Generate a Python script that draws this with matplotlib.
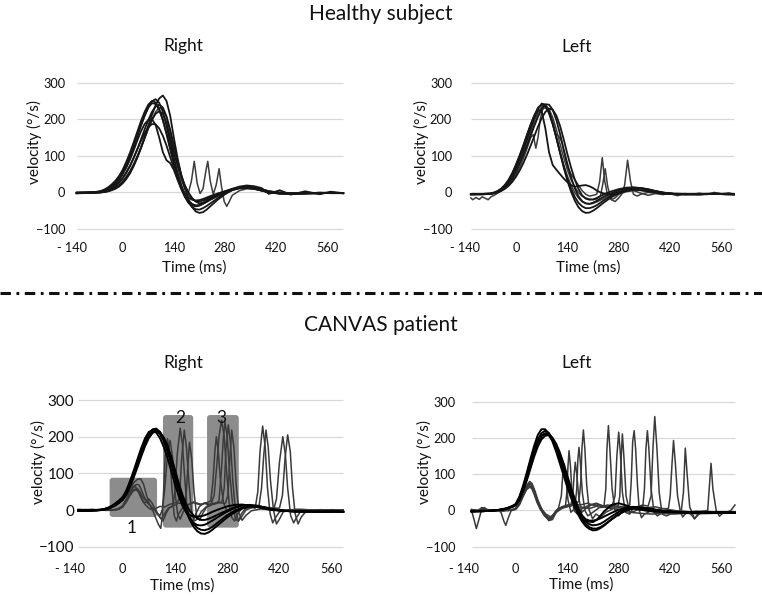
import matplotlib
matplotlib.use('Agg')
import matplotlib.pyplot as plt
from matplotlib.patches import FancyBboxPatch
from matplotlib.lines import Line2D

plt.rcParams['font.family'] = ['Lato', 'DejaVu Sans']
plt.rcParams['lines.scale_dashes'] = False

# ---------------- data ----------------
YTICKS = [-100, 0, 100, 200, 300]
XTICKS = [-140, 0, 140, 280, 420, 560]
XTICKLABELS = ['- 140', '0', '140', '280', '420', '560']

# Healthy subject - Right (time grid in ms, velocity in deg/s)
T_HR = [-126, -90, -70, -60, -50, -40, -30, -20, -10, 0, 10, 20, 30, 40, 50, 60, 70, 80, 90, 100,
        110, 120, 130, 140, 150, 160, 170, 180, 190, 200, 210, 220, 230, 240, 260, 280, 300, 320,
        340, 360, 380, 400, 430, 460, 500, 540, 570, 604]
HR1 = [-2, -1, 0, 0, 1, 3, 6, 10, 16, 25, 37, 52, 72, 95, 122, 152, 183, 212, 238, 257,
       265, 250, 210, 150, 95, 48, 12, -18, -40, -52, -56, -54, -47, -38, -20, -5, 7, 14, 17, 15,
       9, 3, -2, -4, -3, -2, -1, -2]
HR2 = [-1, 0, 1, 2, 4, 8, 14, 23, 35, 52, 72, 96, 124, 153, 182, 209, 232, 249, 255, 245,
       220, 182, 138, 95, 55, 20, -8, -28, -40, -46, -47, -43, -37, -30, -16, -4, 6, 13, 15, 12,
       6, 1, -3, -4, -2, -1, -2, -2]
HR3 = [0, 0, 2, 4, 8, 14, 22, 32, 45, 62, 84, 109, 137, 166, 195, 220, 240, 250, 246, 228,
       198, 160, 118, 78, 42, 12, -12, -28, -36, -38, -36, -31, -25, -19, -9, 0, 8, 13, 14, 11,
       5, 0, -3, -3, -2, -1, -1, -2]
HR4 = [-1, 0, 1, 3, 6, 11, 18, 27, 40, 56, 76, 100, 127, 156, 185, 211, 232, 244, 242, 226,
       198, 162, 122, 84, 50, 20, -5, -22, -32, -36, -35, -31, -26, -20, -10, -1, 7, 12, 13, 10,
       5, 1, -2, -3, -2, -1, -2, -2]
HR5 = [-2, -1, 0, 1, 3, 6, 11, 18, 27, 39, 54, 72, 94, 118, 145, 172, 198, 220, 235, 240,
       232, 208, 172, 130, 88, 50, 18, -5, -18, -24, -25, -22, -18, -13, -5, 2, 8, 13, 15, 13,
       8, 3, -1, -3, -3, -2, -1, -2]
HR7 = [-2, -1, 0, 0, 2, 4, 8, 13, 20, 30, 43, 58, 77, 99, 123, 149, 175, 198, 215, 222,
       215, 190, 150, 110, 75, 45, 20, 0, -15, -25, -30, -28, -22, -15, -4, 3, 10, 16, 19, 17,
       12, -4, 6, -6, 3, -5, 2, -2]
HR8 = [-1, 0, 1, 2, 5, 9, 15, 24, 35, 50, 68, 90, 115, 142, 167, 187, 198, 200, 185, 150,
       110, 88, 80, 62, 35, 10, -10, -24, -32, -36, -35, -30, -24, -18, -8, 0, 7, 11, 12, 10,
       6, 1, -2, -3, -2, -1, -1, -2]
HR9 = [-2, -1, 0, 1, 3, 6, 11, 18, 27, 40, 55, 73, 95, 118, 141, 162, 178, 187, 186, 175,
       155, 128, 97, 66, 38, 14, -3, -14, -20, -22, -21, -18, -14, -10, -3, 3, 9, 14, 16, 14,
       9, 3, 0, -2, -3, -2, -1, -2]
HR6 = [(-126, -3), (-70, -1), (-50, 1), (-40, 3), (-30, 7), (-20, 12), (-10, 19), (0, 28), (10, 40),
       (20, 55), (30, 73), (40, 95), (50, 120), (60, 147), (70, 175), (80, 200), (90, 220), (100, 232),
       (110, 228), (120, 205), (130, 165), (140, 118), (150, 72), (160, 35), (170, 10), (180, 0),
       (188, 30), (196, 85), (204, 25), (212, -3), (220, 10), (228, 60), (233, 85), (240, 30),
       (248, -5), (256, 20), (264, 65), (270, 20), (278, -25), (285, -38), (292, -25), (300, -8),
       (320, 5), (340, 10), (360, 9), (380, 5), (400, 0), (430, -4), (460, -3), (500, -2), (540, -3),
       (570, -1), (604, -2)]

# Healthy subject - Left
T_HL = [-123, -90, -70, -60, -50, -40, -30, -20, -10, 0, 10, 20, 30, 40, 50, 60, 70, 80, 90, 100,
        110, 120, 130, 140, 150, 160, 170, 180, 190, 200, 210, 220, 230, 240, 260, 280, 300, 320,
        340, 360, 380, 400, 430, 460, 500, 540, 570, 594]
HL1 = [-5, -5, -4, -2, 2, 8, 17, 30, 47, 68, 92, 118, 146, 175, 203, 228, 243, 240, 222, 190,
       150, 108, 68, 32, 2, -22, -40, -51, -56, -55, -50, -43, -35, -27, -13, -3, 4, 7, 6, 3,
       0, -3, -5, -6, -5, -4, -5, -6]
HL2 = [-4, -4, -3, 0, 4, 11, 21, 35, 53, 76, 101, 128, 156, 185, 211, 232, 240, 236, 218, 188,
       150, 110, 72, 38, 10, -12, -28, -38, -43, -43, -40, -35, -28, -21, -9, 1, 8, 12, 12, 9,
       4, 0, -4, -5, -5, -4, -5, -5]
HL3 = [-5, -5, -4, -2, 1, 6, 13, 24, 38, 56, 78, 102, 128, 155, 182, 207, 228, 241, 240, 226,
       198, 160, 118, 78, 42, 12, -10, -24, -30, -31, -28, -23, -17, -11, -2, 6, 11, 13, 11, 7,
       3, -1, -4, -5, -5, -4, -4, -5]
HL4 = [-5, -4, -3, -2, 0, 4, 10, 18, 29, 43, 60, 80, 103, 128, 154, 180, 203, 220, 229, 226,
       210, 182, 145, 105, 68, 36, 10, -8, -17, -20, -19, -15, -10, -5, 3, 9, 13, 14, 12, 8,
       3, -1, -3, -4, -4, -3, -4, -5]
HL8 = [-6, -5, -4, -2, 2, 9, 19, 33, 52, 75, 100, 128, 158, 186, 210, 225, 222, 175, 110, 75,
       62, 50, 38, 28, 20, 16, 17, 19, 20, 17, 12, 5, 0, -3, -5, 0, 5, 8, 6, 3,
       0, -3, -5, -4, -6, -3, -5, -5]
HL5 = [(-123, -5), (-90, -5), (-70, -4), (-60, -2), (-50, 1), (-40, 5), (-30, 11), (-20, 20), (-10, 32),
       (0, 48), (10, 68), (20, 92), (30, 120), (40, 150), (47, 158), (54, 121), (60, 150), (66, 200),
       (72, 225), (78, 232), (84, 228), (90, 215), (100, 185), (110, 148), (120, 110), (130, 75),
       (140, 45), (150, 20), (160, 0), (170, -15), (180, -25), (190, -30), (200, -32), (210, -30),
       (220, -26), (230, -21), (240, -16), (260, -6), (280, 2), (300, 8), (320, 11), (340, 11),
       (360, 8), (380, 4), (400, 0), (430, -4), (460, -5), (500, -5), (540, -4), (570, -4), (594, -5)]
HL6 = [(-123, -15), (-118, -20), (-109, -14), (-100, -19), (-92, -12), (-84, -16), (-76, -20), (-68, -12),
       (-60, -8), (-50, -2), (-40, 5), (-30, 14), (-20, 27), (-10, 43), (0, 62), (10, 84), (20, 108),
       (30, 134), (40, 160), (50, 186), (60, 210), (70, 228), (80, 235), (90, 222), (100, 190),
       (108, 160), (116, 155), (124, 140), (132, 105), (140, 70), (150, 50), (160, 35), (170, 20),
       (180, 5), (190, -5), (200, -10), (210, -8), (220, -5), (228, 30), (235, 95), (242, 30),
       (250, -10), (260, -20), (270, -15), (280, -5), (300, 2), (320, 5), (340, -2), (360, -8),
       (380, -3), (400, -6), (420, -2), (440, -9), (460, -3), (480, -5), (500, -2), (520, -6),
       (540, 0), (560, -4), (580, -1), (594, -5)]
HL7 = [(-123, -4), (-90, -4), (-70, -3), (-60, -1), (-50, 3), (-40, 9), (-30, 18), (-20, 30), (-10, 46),
       (0, 66), (10, 89), (20, 114), (30, 141), (40, 168), (50, 195), (60, 218), (70, 234), (80, 238),
       (90, 228), (100, 205), (110, 172), (120, 132), (130, 95), (140, 62), (150, 35), (160, 15),
       (170, 0), (180, -10), (190, -15), (200, -18), (210, -20), (220, -18), (230, -10), (236, 20),
       (243, 65), (250, 15), (260, -20), (270, -25), (280, -15), (288, -5), (296, 20), (304, 88),
       (312, 30), (320, -5), (330, -10), (340, -5), (360, 0), (380, -2), (400, -4), (430, -5),
       (460, -5), (500, -4), (540, -4), (570, -5), (594, -5)]

# CANVAS patient - Right
T_CR = [-119, -90, -70, -60, -50, -40, -30, -20, -10, 0, 10, 20, 30, 40, 50, 60, 70, 80, 90, 100,
        110, 120, 130, 140, 150, 160, 170, 180, 190, 200, 210, 220, 230, 240, 260, 280, 300, 320,
        340, 360, 380, 400, 430, 460, 500, 540, 570, 591]
CR1 = [-2, -2, -1, 0, 2, 5, 9, 15, 22, 31, 48, 72, 100, 130, 160, 187, 208, 220, 222, 213,
       195, 170, 138, 100, 62, 28, -2, -27, -46, -58, -64, -65, -61, -54, -37, -20, -6, 4, 9, 9,
       6, 2, -2, -4, -5, -5, -4, -5]
CR2 = [-2, -1, -1, 0, 1, 4, 8, 13, 20, 29, 45, 68, 95, 124, 153, 180, 201, 214, 218, 212,
       196, 172, 141, 104, 67, 33, 4, -20, -38, -49, -54, -55, -52, -46, -30, -14, -2, 7, 11, 10,
       7, 2, -2, -4, -5, -5, -4, -5]
CR3 = [-1, -1, 0, 0, 2, 5, 10, 16, 24, 33, 50, 75, 103, 133, 163, 190, 210, 219, 218, 207,
       187, 160, 126, 88, 52, 20, -6, -24, -35, -41, -42, -40, -35, -29, -16, -4, 6, 12, 13, 10,
       6, 1, -2, -4, -4, -5, -4, -5]
CR4 = [-2, -2, -1, 0, 1, 3, 7, 12, 19, 27, 42, 64, 90, 118, 147, 174, 196, 210, 215, 211,
       198, 176, 146, 110, 74, 42, 16, -3, -15, -23, -27, -27, -24, -20, -10, -1, 7, 13, 14, 12,
       7, 2, -1, -3, -4, -4, -4, -5]
CR5 = [-1, -1, 0, 1, 3, 6, 11, 18, 26, 36, 54, 80, 109, 140, 170, 196, 213, 217, 211, 196,
       172, 142, 107, 70, 38, 12, -6, -14, -18, -18, -17, -14, -10, -5, 3, 10, 14, 15, 12, 8,
       4, 0, -2, -3, -4, -4, -4, -5]
CRG1 = [(-119, 0), (-80, 2), (-60, -1), (-40, 1), (-20, 0), (-10, 3), (0, 12), (10, 30), (20, 55), (30, 75),
        (40, 84), (48, 85), (56, 70), (64, 40), (72, 15), (80, 0), (88, -20), (96, -40), (102, -50),
        (106, -20), (110, 60), (114, 150), (120, 195), (126, 150), (132, 60), (138, -15), (144, -30),
        (150, -10), (160, 5), (175, 15), (190, 20), (205, 15), (220, 18), (235, 12), (245, 40),
        (252, 120), (258, 200), (265, 245), (272, 200), (278, 110), (285, 20), (292, -20), (300, -30),
        (308, -10), (320, 5), (340, 8), (355, 5), (362, 50), (368, 160), (375, 229), (382, 170),
        (388, 60), (395, -10), (402, -35), (410, -20), (420, -5), (440, 0), (470, 2), (500, -2),
        (530, 1), (560, -1), (591, 0)]
CRG2 = [(-119, 1), (-90, -2), (-60, 1), (-30, 0), (-10, 2), (0, 8), (10, 25), (20, 50), (28, 62), (34, 64),
        (40, 55), (48, 35), (56, 20), (64, 22), (72, 15), (80, 5), (90, -5), (100, -20), (108, -30),
        (116, -10), (124, 5), (134, 10), (140, 50), (146, 150), (154, 223), (160, 180), (166, 90),
        (172, 10), (180, -25), (188, -30), (196, -10), (206, 10), (220, 20), (235, 15), (250, 18),
        (258, 25), (264, 100), (270, 200), (274, 240), (280, 200), (286, 110), (294, 20), (302, -25),
        (310, -30), (318, -10), (330, 5), (350, 10), (370, 8), (390, 5), (405, 3), (412, 30),
        (420, 130), (429, 200), (436, 150), (442, 60), (450, -15), (458, -35), (466, -20), (476, -5),
        (500, 0), (530, -2), (560, 0), (591, -1)]
CRG3 = [(-119, -1), (-100, 1), (-70, 0), (-40, -1), (-20, 1), (0, 10), (10, 28), (20, 45), (30, 56),
        (39, 59), (46, 50), (54, 35), (62, 25), (70, 30), (78, 20), (86, 5), (94, -10), (100, -15),
        (106, 0), (112, 50), (120, 150), (127, 190), (134, 140), (140, 50), (147, -10), (154, -25),
        (162, -5), (172, 12), (190, 22), (210, 15), (225, 20), (236, 25), (242, 80), (247, 160),
        (251, 200), (256, 160), (262, 80), (270, 20), (280, -5), (290, 5), (300, 15), (320, 12),
        (340, 10), (355, 8), (365, 10), (372, 60), (378, 150), (384, 218), (390, 170), (396, 80),
        (404, 0), (412, -38), (420, -25), (430, -5), (450, 0), (480, 2), (520, -1), (560, 1), (591, -1)]
CRG4 = [(-119, 2), (-85, 0), (-55, 2), (-30, -1), (-10, 3), (0, 10), (10, 25), (20, 48), (30, 65), (38, 70),
        (44, 68), (50, 55), (58, 35), (66, 20), (76, 10), (86, 0), (96, -15), (104, -25), (112, -10),
        (122, 5), (135, 12), (145, 15), (152, 35), (158, 140), (165, 218), (171, 170), (177, 80),
        (184, 0), (192, -30), (200, -25), (210, -5), (225, 10), (240, 18), (255, 20), (266, 22),
        (272, 60), (277, 170), (283, 232), (289, 180), (295, 80), (302, 0), (310, -30), (318, -20),
        (330, 0), (350, 8), (370, 10), (395, 6), (420, 5), (428, 40), (435, 140), (442, 205),
        (449, 160), (455, 60), (462, -10), (470, -38), (478, -20), (490, -5), (520, 0), (560, -1), (591, 0)]
CRG5 = [(-119, 0), (-95, -1), (-65, 1), (-35, 0), (-12, 2), (0, 9), (10, 22), (20, 40), (28, 52), (36, 55),
        (44, 48), (52, 30), (60, 15), (70, 5), (80, 0), (90, 5), (100, 10), (112, 8), (125, 15),
        (140, 20), (155, 18), (165, 15), (170, 40), (174, 110), (179, 185), (185, 140), (191, 50),
        (198, -15), (206, -28), (214, -10), (225, 8), (240, 15), (258, 20), (275, 18), (282, 40),
        (287, 140), (292, 218), (298, 170), (304, 70), (312, -10), (320, -28), (330, -15), (345, -2),
        (370, 3), (400, 0), (440, -2), (480, -1), (520, 0), (560, -2), (591, -1)]

# CANVAS patient - Left
T_CL = [-120, -90, -70, -60, -50, -40, -30, -20, -10, 0, 10, 20, 30, 40, 50, 60, 70, 80, 90, 100,
        110, 120, 130, 140, 150, 160, 170, 180, 190, 200, 210, 220, 230, 240, 260, 280, 300, 320,
        340, 360, 380, 400, 430, 460, 500, 540, 570, 596]
CL1 = [-3, -2, -1, 0, 1, 3, 5, 8, 12, 18, 38, 68, 104, 142, 178, 208, 224, 224, 212, 190,
       162, 130, 97, 65, 36, 10, -12, -30, -43, -51, -55, -54, -49, -42, -25, -10, 1, 6, 6, 3,
       0, -3, -5, -6, -6, -7, -6, -7]
CL2 = [-2, -2, -1, 0, 1, 2, 4, 7, 11, 17, 35, 63, 97, 133, 168, 196, 213, 220, 214, 197,
       173, 143, 111, 78, 47, 20, -4, -23, -37, -46, -50, -50, -46, -40, -25, -11, 0, 6, 7, 5,
       2, -2, -4, -5, -6, -6, -6, -7]
CL3 = [-3, -2, -1, 0, 0, 2, 4, 7, 10, 15, 31, 56, 88, 122, 156, 185, 204, 213, 212, 200,
       180, 153, 122, 89, 57, 29, 4, -16, -30, -38, -41, -40, -37, -31, -17, -4, 5, 9, 9, 6,
       2, -2, -4, -5, -6, -6, -6, -6]
CL4 = [-2, -2, -1, 0, 1, 2, 3, 6, 9, 14, 28, 52, 82, 115, 148, 176, 196, 206, 208, 200,
       184, 160, 130, 97, 64, 34, 8, -13, -26, -31, -32, -26, -15, -3, 15, 20, 14, 6, 2, -1,
       -3, -4, -5, -5, -6, -6, -5, -6]
CL5 = [-2, -1, -1, 0, 1, 2, 4, 7, 11, 16, 33, 60, 93, 128, 162, 190, 207, 212, 207, 193,
       172, 146, 115, 83, 52, 26, 3, -14, -24, -28, -28, -26, -22, -17, -7, 2, 8, 10, 8, 4,
       1, -2, -4, -5, -5, -6, -5, -6]
CLG1 = [(-120, 0), (-112, -30), (-107, -50), (-100, -25), (-92, 5), (-85, 8), (-78, 2), (-65, 0), (-50, 2),
        (-40, -5), (-32, -30), (-27, -41), (-20, -20), (-12, 0), (0, 5), (10, 20), (20, 45), (30, 68),
        (36, 75), (42, 72), (50, 50), (58, 25), (66, 5), (76, -10), (86, -22), (96, -25), (106, -10),
        (116, 5), (124, 40), (128, 100), (132, 128), (136, 100), (142, 30), (150, -5), (160, 5),
        (175, 10), (200, 5), (215, 10), (225, 15), (240, 12), (245, 60), (248, 170), (252, 234),
        (256, 170), (262, 60), (270, 0), (280, -15), (290, 0), (305, 10), (330, 8), (345, 5),
        (350, 60), (354, 170), (358, 220), (362, 170), (368, 60), (376, -5), (385, -15), (400, -5),
        (420, 0), (455, -2), (490, -5), (522, 0), (526, 60), (531, 130), (536, 60), (545, 0),
        (554, -16), (565, -5), (580, -4), (596, -5)]
CLG2 = [(-120, 2), (-100, 0), (-80, 3), (-60, 0), (-40, 2), (-20, 0), (-5, 2), (5, 10), (15, 30), (25, 55),
        (32, 72), (38, 80), (44, 75), (52, 55), (60, 30), (70, 5), (80, -15), (90, -28), (100, -25),
        (110, -5), (125, 5), (135, 10), (139, 50), (142, 120), (145, 165), (149, 120), (153, 50),
        (158, 0), (168, -10), (180, 5), (200, 15), (220, 20), (240, 10), (260, 5), (270, 40),
        (275, 150), (280, 216), (285, 150), (290, 50), (298, -5), (310, -10), (318, 5), (330, 10),
        (345, 15), (360, 12), (368, 40), (373, 170), (378, 259), (384, 170), (390, 50), (398, -10),
        (410, -15), (430, -5), (450, -2), (456, 50), (461, 172), (466, 100), (473, 10), (486, -23),
        (500, -8), (520, -5), (560, -6), (596, -5)]
CLG3 = [(-120, -1), (-90, 1), (-70, -1), (-50, 0), (-30, 1), (-10, 0), (0, 3), (10, 15), (20, 38), (30, 60),
        (36, 68), (42, 65), (50, 45), (58, 22), (68, 2), (78, -15), (88, -22), (98, -18), (110, -3),
        (125, 8), (140, 12), (150, 15), (155, 40), (159, 100), (162, 133), (166, 100), (172, 30),
        (180, -5), (190, 5), (205, 15), (220, 18), (240, 12), (260, 10), (278, 12), (283, 40),
        (287, 150), (290, 211), (294, 150), (300, 40), (310, -5), (320, -3), (340, 5), (360, 8),
        (380, 10), (400, 5), (415, 5), (420, 40), (425, 130), (429, 193), (434, 130), (440, 40),
        (448, -5), (454, -18), (465, -5), (490, -2), (530, -4), (570, -5), (596, -4)]
CLG4 = [(-120, 1), (-95, -1), (-75, 2), (-55, 0), (-35, -2), (-15, 1), (0, 4), (10, 18), (20, 42), (30, 65),
        (40, 72), (46, 66), (54, 42), (62, 20), (72, 0), (82, -18), (92, -24), (102, -12), (115, 5),
        (130, 10), (150, 12), (162, 20), (166, 60), (169, 140), (172, 174), (176, 130), (181, 50),
        (188, 0), (196, -15), (210, -5), (230, 10), (250, 15), (270, 12), (300, 10), (310, 15),
        (314, 80), (318, 190), (322, 220), (326, 170), (331, 70), (336, 0), (342, -20), (350, -10),
        (370, 0), (400, 5), (430, 0), (470, -5), (480, -15), (486, -23), (495, -10), (520, -3),
        (560, -5), (596, -6)]
CLG5 = [(-120, 0), (-90, -2), (-60, 1), (-30, 0), (-10, 2), (0, 6), (10, 22), (20, 46), (30, 66), (38, 74),
        (44, 70), (52, 48), (60, 24), (70, 4), (80, -12), (90, -20), (100, -15), (110, 0), (125, 10),
        (140, 15), (160, 18), (172, 25), (177, 80), (180, 170), (184, 222), (188, 170), (193, 70),
        (200, 0), (209, -23), (218, -10), (231, -18), (245, -5), (265, 5), (290, 10), (320, 5),
        (350, 0), (380, -5), (410, -8), (440, -6), (480, -8), (520, -6), (560, -7), (596, -6)]
CLG6 = [(-120, 3), (-105, -2), (-92, 8), (-80, 2), (-60, -1), (-40, 2), (-20, 0), (0, 4), (10, 18), (20, 40),
        (30, 58), (38, 64), (45, 60), (54, 40), (62, 18), (72, 2), (82, -10), (95, -18), (108, -8),
        (120, 5), (140, 10), (160, 18), (175, 15), (195, 20), (210, 15), (230, 8), (250, 10), (270, 5),
        (290, 0), (310, -5), (340, -8), (370, -10), (400, -8), (430, -10), (460, -8), (500, -9),
        (540, -8), (570, -7), (585, 0), (596, 15)]

# gray boxes (ms range, velocity range) and their labels for the CANVAS Right panel
BOXES = [(-35, 92, -19, 88), (108, 189, -48, 259), (226, 311, -48, 259)]
BOX_LABELS = [('1', 25, -50), ('2', 153, 251), ('3', 265, 251)]

# ---------------- figure ----------------
W, H = 762, 596
fig = plt.figure(figsize=(W / 100, H / 100), dpi=100)


def add_panel(l, r, t, b):
    return fig.add_axes([l / W, 1 - b / H, (r - l) / W, (b - t) / H])


def style(ax, g0, g1, ypad, xpad, yfs):
    ax.set_xlim(-140, 610)
    ax.set_ylim(-100, 300)
    for s in ax.spines.values():
        s.set_visible(False)
    ax.hlines(YTICKS, g0, g1, color='#d9d9d9', lw=0.9, zorder=0, clip_on=False)
    ax.set_yticks(YTICKS)
    ax.set_xticks(XTICKS)
    ax.set_xticklabels(XTICKLABELS)
    ax.tick_params(axis='y', length=0, pad=ypad, labelsize=yfs, labelcolor='#111111')
    ax.tick_params(axis='x', length=0, pad=xpad, labelsize=9.2, labelcolor='#111111')
    ax.set_facecolor('none')


def grid_traces(ax, t, series, color, lw):
    for v in series:
        ax.plot(t, v, color=color, lw=lw, solid_joinstyle='round', zorder=3)


def pair_traces(ax, series, color, lw):
    for s in series:
        ax.plot([p[0] for p in s], [p[1] for p in s], color=color, lw=lw,
                solid_joinstyle='round', zorder=2)


# Healthy Right
ax1 = add_panel(71.6, 345.4, 82.7, 229)
style(ax1, -126, 604, 4.5, 9, 9.2)
pair_traces(ax1, [HR6], '#3c3c3c', 1.1)
grid_traces(ax1, T_HR, [HR1, HR2, HR3, HR4, HR5, HR7, HR8, HR9], '#161616', 1.3)

# Healthy Left
ax2 = add_panel(464.6, 739.9, 82.7, 229)
style(ax2, -123, 595, 9, 9, 9.2)
pair_traces(ax2, [HL5, HL6, HL7], '#3c3c3c', 1.1)
grid_traces(ax2, T_HL, [HL1, HL2, HL3, HL4, HL8], '#161616', 1.3)

# CANVAS Right
ax3 = add_panel(70.45, 350.35, 400, 546.7)
style(ax3, -119, 591, -2.5, 11.5, 11)
for (x0, x1, y0, y1) in BOXES:
    ax3.add_patch(FancyBboxPatch((x0, y0), x1 - x0, y1 - y0,
                                 boxstyle='round,pad=0,rounding_size=8',
                                 mutation_aspect=1, facecolor='#8c8c8c',
                                 edgecolor='none', zorder=1))
pair_traces(ax3, [CRG1, CRG2, CRG3, CRG4, CRG5], '#3a3a3a', 1.1)
grid_traces(ax3, T_CR, [CR1, CR2, CR3, CR4, CR5], '#000000', 1.4)
for (s, x, y) in BOX_LABELS:
    ax3.text(x, y, s, fontsize=12.5, ha='center', va='center', color='#111111', zorder=5)

# CANVAS Left
ax4 = add_panel(464.2, 740.1, 401.7, 546.7)
style(ax4, -120, 596, 6.5, 11.5, 9.2)
pair_traces(ax4, [CLG1, CLG2, CLG3, CLG4, CLG5, CLG6], '#3a3a3a', 1.1)
grid_traces(ax4, T_CL, [CL1, CL2, CL3, CL4, CL5], '#000000', 1.4)

# ---------------- texts ----------------
def ftext(px, py, s, **kw):
    fig.text(px / W, 1 - py / H, s, ha='center', va='center', color='#111111', **kw)


ftext(381, 14, 'Healthy subject', fontsize=15)
ftext(183, 46, 'Right', fontsize=12.5)
ftext(577, 47, 'Left', fontsize=12.5)
ftext(381, 325, 'CANVAS patient', fontsize=15)
ftext(183, 363, 'Right', fontsize=12.5)
ftext(577, 363, 'Left', fontsize=12.5)

for (px, py) in [(34, 142), (421, 142), (38, 462), (424, 462)]:
    ftext(px, py, 'velocity (°/s)', fontsize=11, rotation=90)
for (px, py) in [(194, 268), (588, 268), (182, 586), (581, 585)]:
    ftext(px, py, 'Time (ms)', fontsize=11)

# dash-dot separator
fig.add_artist(Line2D([0, 1], [1 - 293 / H, 1 - 293 / H], transform=fig.transFigure,
                      color='#111111', lw=2.2, dashes=(7.5, 4.0, 2.0, 4.0),
                      dash_capstyle='butt'))

fig.savefig('out.png', dpi=100)
